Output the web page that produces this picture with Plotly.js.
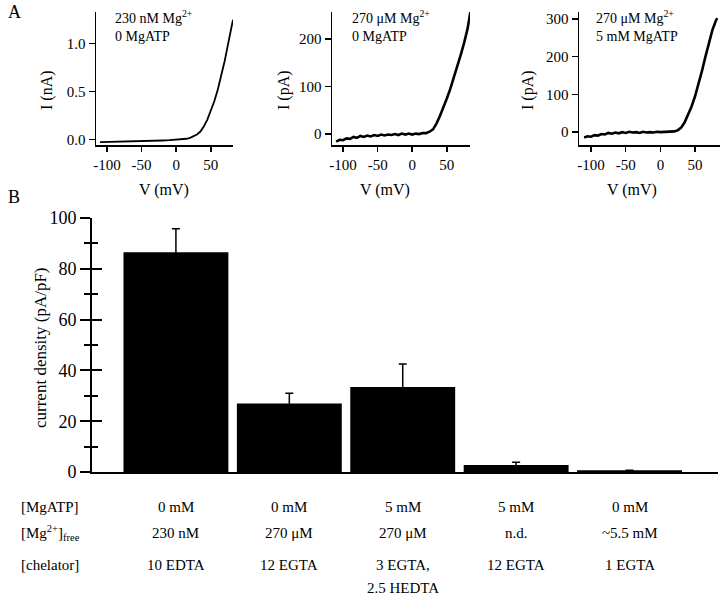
<!DOCTYPE html>
<html>
<head>
<meta charset="utf-8">
<script src="https://cdn.plot.ly/plotly-3.0.1.min.js"></script>
<style>body{margin:0;background:#fff}#chart{width:720px;height:597px}</style>
</head>
<body>
<div id="chart"></div>
<script>
// panel A: I-V traces
var vA1 = [-110,-100,-90,-80,-70,-60,-50,-40,-30,-20,-10,0,10,15,20,25,30,35,40,45,50,55,60,65,70,75,80,82];
var iA1 = [-0.025,-0.024,-0.022,-0.02,-0.018,-0.016,-0.014,-0.012,-0.01,-0.008,-0.005,-0.002,0.005,0.01,0.02,0.035,0.055,0.085,0.14,0.21,0.3,0.4,0.52,0.66,0.82,1.0,1.18,1.25];

var vA2 = [-110,-105,-100,-95,-90,-85,-80,-75,-70,-65,-60,-55,-50,-45,-40,-35,-30,-25,-20,-15,-10,-5,0,5,10,15,20,25,30,35,40,45,50,55,60,65,70,75,80,84];
var iA2 = [-16,-12,-13,-9,-10,-6,-8,-4,-6,-3,-5,-2,-4,-1,-3,-1,-2,0,-2,1,-1,1,-1,1,0,2,2,5,10,22,38,55,75,95,117,140,166,192,222,257];

var vA3 = [-110,-105,-100,-95,-90,-85,-80,-75,-70,-65,-60,-55,-50,-45,-40,-35,-30,-25,-20,-15,-10,-5,0,5,10,15,20,25,30,35,40,45,50,55,60,65,70,75,80,82];
var iA3 = [-14,-11,-12,-8,-9,-5,-6,-2,-4,-1,-3,0,-2,1,-1,0,-2,1,-1,0,-1,1,0,1,0,2,2,5,12,26,45,68,95,127,162,200,238,270,295,302];

var notesA = ["230 nM Mg<sup>2+</sup><br>0 MgATP", "270 \u03bcM Mg<sup>2+</sup><br>0 MgATP", "270 \u03bcM Mg<sup>2+</sup><br>5 mM MgATP"];
var unitsA = ["I (nA)", "I (pA)", "I (pA)"];

// panel B: current density
var conditions = [0, 1, 2, 3, 4];
var density = [86.5, 27, 33.5, 2.8, 0.7];
var densityErr = [9.3, 4, 9, 1, 0];
var mgatp = ["0 mM", "0 mM", "5 mM", "5 mM", "0 mM"];
var mgFree = ["230 nM", "270 \u03bcM", "270 \u03bcM", "n.d.", "~5.5 mM"];
var chelator = ["10 EDTA", "12 EGTA", "3 EGTA,", "12 EGTA", "1 EGTA"];
var chelator2 = ["", "", "2.5 HEDTA", "", ""];

var W = 720, H = 597;
function px(x) { return x / W; }
function py(y) { return 1 - y / H; }

var font = {family: "'Liberation Serif', 'Times New Roman', serif", color: "black"};

var data = [
  {x: vA1, y: iA1, type: "scatter", mode: "lines", line: {color: "black", width: 1.8}, xaxis: "x", yaxis: "y"},
  {x: vA2, y: iA2, type: "scatter", mode: "lines", line: {color: "black", width: 2.6}, xaxis: "x2", yaxis: "y2"},
  {x: vA3, y: iA3, type: "scatter", mode: "lines", line: {color: "black", width: 2.6}, xaxis: "x3", yaxis: "y3"},
  {x: conditions, y: density, type: "bar", width: 0.925, xaxis: "x4", yaxis: "y4",
   marker: {color: "black"},
   error_y: {type: "data", array: densityErr, visible: true, color: "black", thickness: 1.5, width: 4}}
];

var vTicks = {tickvals: [-100, -50, 0, 50], ticktext: ["-100", "-50", "0", "50"]};

function xAxisA(d0, d1, r, anchor) {
  return Object.assign({
    domain: [px(d0), px(d1)], range: r, anchor: anchor,
    showgrid: false, zeroline: false, showline: true, linecolor: "black", linewidth: 1.5,
    ticks: "outside", ticklen: 5, tickwidth: 1.5, tickcolor: "black",
    tickfont: Object.assign({size: 15}, font), tickmode: "array"
  }, vTicks);
}
function yAxisA(r, tv, tt, anchor) {
  return {
    domain: [py(145), py(12)], range: r, anchor: anchor,
    showgrid: false, zeroline: false, showline: true, linecolor: "black", linewidth: 1.5,
    ticks: "outside", ticklen: 6, tickwidth: 1.5, tickcolor: "black",
    tickmode: "array", tickvals: tv, ticktext: tt,
    tickfont: Object.assign({size: 15}, font)
  };
}

var annotations = [];
function note(text, x, y, size, opts) {
  annotations.push(Object.assign({
    text: text, xref: "paper", yref: "paper", x: px(x), y: py(y),
    showarrow: false, font: Object.assign({size: size}, font),
    xanchor: "center", yanchor: "middle"
  }, opts || {}));
}

note("A", 6, 12, 18, {xanchor: "left"});
note("B", 6, 197, 18, {xanchor: "left"});

var noteX = [113, 350, 594];
var yTitleX = [47, 284, 528];
var xTitleX = [164, 385, 632];
for (var i = 0; i < 3; i++) {
  note(notesA[i], noteX[i], 26, 14, {xanchor: "left", align: "left"});
  note(unitsA[i], yTitleX[i], 90, 16, {textangle: -90});
  note("V (mV)", xTitleX[i], 190, 16);
}
note("current density (pA/pF)", 40, 348, 17, {textangle: -90});

// condition table under panel B
note("[MgATP]", 19, 507, 15, {xanchor: "left"});
note("[Mg<sup>2+</sup>]<sub>free</sub>", 19, 533, 15, {xanchor: "left"});
note("[chelator]", 19, 565, 15, {xanchor: "left"});
var rows = [[mgatp, 507], [mgFree, 533], [chelator, 565], [chelator2, 588]];
rows.forEach(function (row) {
  conditions.forEach(function (c, j) {
    if (!row[0][j]) return;
    annotations.push({
      text: row[0][j], xref: "x4", yref: "paper", x: c, y: py(row[1]),
      showarrow: false, font: Object.assign({size: 15}, font),
      xanchor: "center", yanchor: "middle"
    });
  });
});

var layout = {
  width: W, height: H,
  margin: {l: 0, r: 0, t: 0, b: 0},
  paper_bgcolor: "white", plot_bgcolor: "rgba(0,0,0,0)",
  showlegend: false, font: font,
  xaxis: xAxisA(96, 233, [-115.7, 82], "y"),
  yaxis: yAxisA([-0.055, 1.33], [0, 0.5, 1.0], ["0.0", "0.5", "1.0"], "x"),
  xaxis2: xAxisA(332, 470, [-116, 83.5], "y2"),
  yaxis2: yAxisA([-23, 257], [0, 100, 200], ["0", "100", "200"], "x2"),
  xaxis3: xAxisA(579, 720, [-117.4, 86], "y3"),
  yaxis3: yAxisA([-34, 318], [0, 100, 200, 300], ["0", "100", "200", "300"], "x3"),
  xaxis4: {
    domain: [px(92), px(718)], range: [-0.74, 4.78], anchor: "y4",
    showgrid: false, zeroline: false, showline: true, linecolor: "black", linewidth: 2,
    ticks: "", showticklabels: false
  },
  yaxis4: {
    domain: [py(472), py(218)], range: [0, 100], anchor: "x4",
    showgrid: false, zeroline: false, showline: true, linecolor: "black", linewidth: 2,
    ticks: "outside", ticklen: 10, tickwidth: 2, tickcolor: "black", dtick: 20,
    tickfont: Object.assign({size: 18}, font),
    minor: {ticks: "outside", dtick: 10, ticklen: 6, tickwidth: 2, tickcolor: "black"}
  },
  yaxis5: {
    domain: [py(472), py(218)], range: [0, 100], anchor: "x4", overlaying: "y4",
    showgrid: false, zeroline: false, showline: false,
    ticks: "inside", ticklen: 10, tickwidth: 2, tickcolor: "black", dtick: 20,
    showticklabels: false,
    minor: {ticks: "inside", dtick: 10, ticklen: 6, tickwidth: 2, tickcolor: "black"}
  },
  annotations: annotations
};

data.push({x: [], y: [], type: "scatter", xaxis: "x4", yaxis: "y5", hoverinfo: "skip"});

Plotly.newPlot("chart", data, layout, {staticPlot: true});
</script>
</body>
</html>
